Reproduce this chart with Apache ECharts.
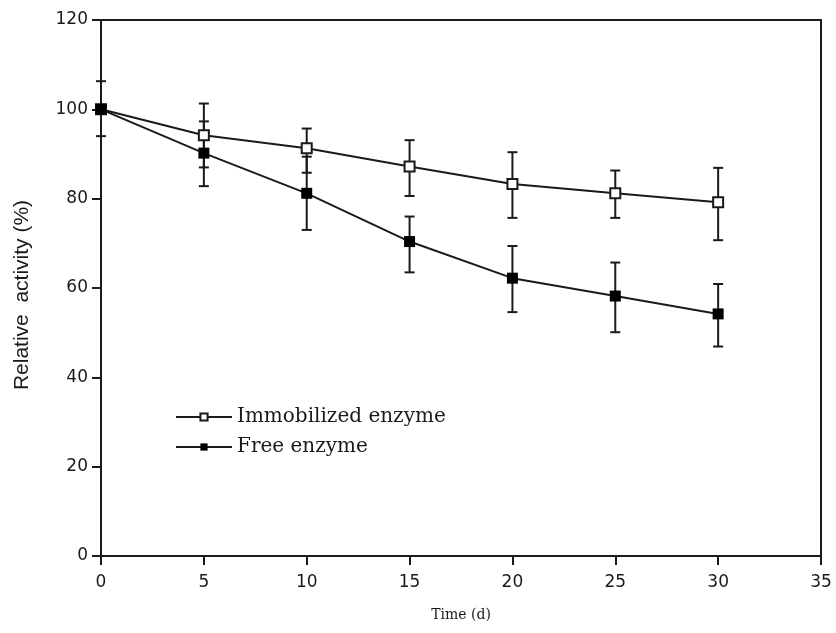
<!DOCTYPE html>
<html>
<head>
<meta charset="utf-8">
<script src="https://cdn.jsdelivr.net/npm/echarts@6/dist/echarts.min.js"></script>
<style>
html, body { margin: 0; padding: 0; background: #fff; }
#chart { width: 836px; height: 633px; }
</style>
</head>
<body>
<div id="chart"></div>
<script>
// values
const days = [0, 5, 10, 15, 20, 25, 30];
const immobilized = [100, 94.2, 91.3, 87.2, 83.3, 81.2, 79.2];
const immLow = [100, 87.0, 85.8, 80.6, 75.7, 75.7, 70.7];
const immHigh = [100, 101.3, 95.7, 93.1, 90.4, 86.3, 86.9];
const free = [100, 90.2, 81.2, 70.4, 62.2, 58.2, 54.2];
const freeLow = [94.0, 82.8, 73.0, 63.5, 54.6, 50.1, 46.9];
const freeHigh = [106.3, 97.3, 89.4, 76.0, 69.4, 65.7, 60.9];
const seriesNames = ['Immobilized enzyme', 'Free enzyme'];

const ink = '#1a1a1a';
const serif = 'DejaVu Serif';

function pairs(ys) {
  return days.map((d, i) => [d, ys[i]]);
}
function bars(lo, hi) {
  return days.map((d, i) => [d, lo[i], hi[i]]);
}

// vertical bar with caps
function errorBar(params, api) {
  const x = api.value(0);
  const top = api.coord([x, api.value(2)]);
  const bot = api.coord([x, api.value(1)]);
  const w = 5;
  const style = { stroke: ink, lineWidth: 2 };
  return {
    type: 'group',
    children: [
      { type: 'line', shape: { x1: top[0], y1: top[1], x2: bot[0], y2: bot[1] }, style: style },
      { type: 'line', shape: { x1: top[0] - w, y1: top[1], x2: top[0] + w, y2: top[1] }, style: style },
      { type: 'line', shape: { x1: bot[0] - w, y1: bot[1], x2: bot[0] + w, y2: bot[1] }, style: style }
    ]
  };
}

let myChart = echarts.init(document.getElementById('chart'));
myChart.setOption({
  animation: false,
  grid: { left: 101, right: 15, top: 20, bottom: 77, outerBoundsMode: 'none', containLabel: false },
  legend: {
    data: seriesNames,
    orient: 'vertical',
    left: 175,
    top: 407,
    padding: 0,
    itemWidth: 56,
    itemHeight: 9,
    itemGap: 10,
    textStyle: { fontFamily: serif, fontSize: 20, lineHeight: 20, color: ink }
  },
  xAxis: {
    type: 'value',
    min: 0,
    max: 35,
    interval: 5,
    name: 'Time (d)',
    nameLocation: 'middle',
    nameGap: 52,
    nameTextStyle: { fontFamily: serif, fontSize: 14, color: ink },
    axisLine: { onZero: false, lineStyle: { color: ink, width: 2 } },
    axisTick: { length: 9, lineStyle: { color: ink, width: 2 } },
    axisLabel: { margin: 18, fontFamily: 'DejaVu Sans', fontSize: 17, color: ink },
    splitLine: { show: false }
  },
  yAxis: {
    type: 'value',
    min: 0,
    max: 120,
    interval: 20,
    name: 'Relative  activity (%)',
    nameLocation: 'middle',
    nameGap: 68,
    nameTextStyle: { fontFamily: 'Liberation Sans', fontSize: 21, color: ink, padding: [0, 14, 0, 0] },
    axisLine: { onZero: false, lineStyle: { color: ink, width: 2 } },
    axisTick: { length: 9, lineStyle: { color: ink, width: 2 } },
    axisLabel: { margin: 13, fontFamily: 'DejaVu Sans', fontSize: 17, color: ink },
    splitLine: { show: false }
  },
  series: [
    {
      type: 'custom',
      name: 'immErr',
      renderItem: errorBar,
      data: bars(immLow, immHigh),
      encode: { x: 0, y: [1, 2] },
      z: 1,
      silent: true
    },
    {
      type: 'custom',
      name: 'freeErr',
      renderItem: errorBar,
      data: bars(freeLow, freeHigh),
      encode: { x: 0, y: [1, 2] },
      z: 1,
      silent: true
    },
    {
      name: seriesNames[0],
      type: 'line',
      data: pairs(immobilized),
      symbol: 'rect',
      symbolSize: 10,
      showAllSymbol: true,
      lineStyle: { color: ink, width: 2 },
      itemStyle: { color: '#fff', borderColor: ink, borderWidth: 2 },
      z: 3
    },
    {
      name: seriesNames[1],
      type: 'line',
      data: pairs(free),
      symbol: 'rect',
      symbolSize: 11,
      showAllSymbol: true,
      lineStyle: { color: ink, width: 2 },
      itemStyle: { color: '#000', borderColor: '#000', borderWidth: 0 },
      z: 4
    }
  ]
});

// frame on the top and right like the original plot box
const rect = myChart.getModel().getComponent('grid').coordinateSystem.getRect();
myChart.setOption({
  graphic: [{
    type: 'polyline',
    silent: true,
    z: 0,
    shape: { points: [[rect.x, rect.y], [rect.x + rect.width, rect.y], [rect.x + rect.width, rect.y + rect.height]] },
    style: { stroke: ink, lineWidth: 2, fill: null }
  }]
});
</script>
</body>
</html>
